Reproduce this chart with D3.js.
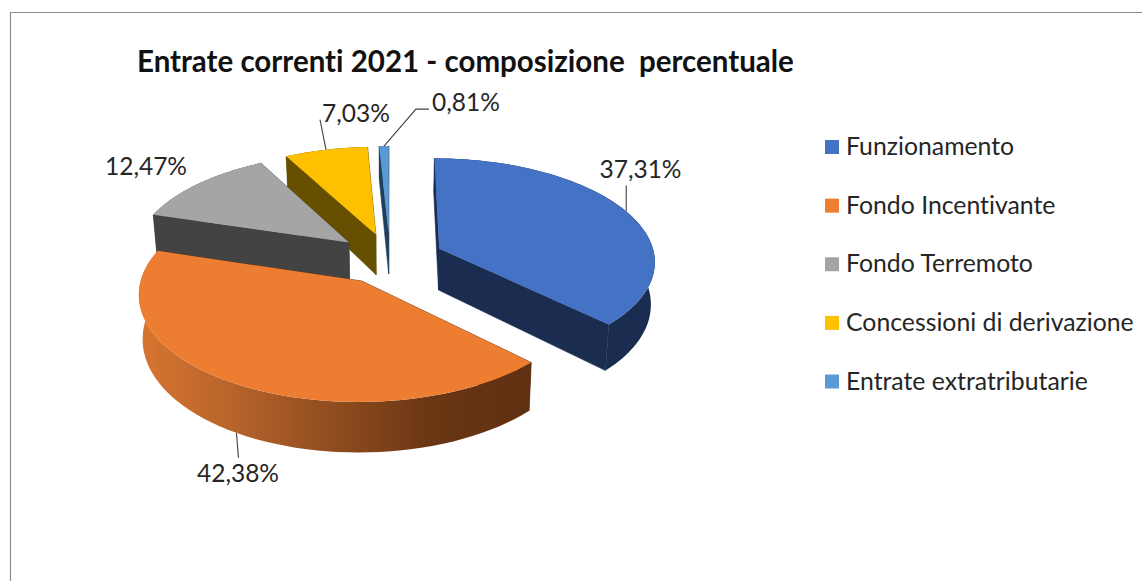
<!DOCTYPE html>
<html>
<head>
<meta charset="utf-8">
<script src="https://cdn.jsdelivr.net/npm/d3@7"></script>
<style>
  html, body { margin: 0; padding: 0; background: #fff; overflow: hidden; }
  text { font-family: Lato, "Open Sans", sans-serif; fill: #262626; font-variant-ligatures: none; white-space: pre; }
</style>
</head>
<body>
<div id="chart"></div>
<script>
// Data
const categories = ['Funzionamento', 'Fondo Incentivante', 'Fondo Terremoto', 'Concessioni di derivazione', 'Entrate extratributarie']
const percent = [37.31, 42.38, 12.47, 7.03, 0.81]

// Styles
const topColors = ['#4472c4', '#ed7d31', '#a5a5a5', '#ffc000', '#5b9bd5']
const wallColors = ['#1a2c50', '#5f3011', '#434343', '#665000', '#1f3e5e']

// Label placement, per slice
const leaderPoints = [[[0, -26]], [[2, 25]], [], [[-6, -30]], [[32, -37], [45, -37]]]
const labelX = [640.5, 238, 146, 356, 466]
const labelY = [178, 482, 175, 122, 111]

const width = 1142, height = 581
const explode = 0.25, persp = 0.11, steps = 60

// disc units (radius 1) to pixels
const xScale = d3.scaleLinear().domain([-1, 1]).range([174, 606])
const yScale = d3.scaleLinear().domain([-1, 1]).range([156.2, 360.8])

// z = 0 is the top face, z = 1 the bottom face
let project = (u, v, z) => {
  let w = 1 - persp * v
  return [
    xScale(u / w * (1 - 0.015 * z)),
    yScale(v / w) + z * (42 + 7 * v)
  ]
}

let svg = d3.select('#chart')
  .append('svg')
  .attr('width', width)
  .attr('height', height)
  .style('display', 'block')

// Frame is cut by the screenshot on the right and at the bottom
svg.append('path')
  .attr('d', `M10.5,${height}V12.5H${width}`)
  .attr('fill', 'none')
  .attr('stroke', '#8c8c8c')
  .attr('stroke-width', 1.2)

let defs = svg.append('defs')
let rimGradient = defs.append('linearGradient')
  .attr('id', 'orangeRim')
  .attr('gradientUnits', 'userSpaceOnUse')
  .attr('x1', 140).attr('x2', 530).attr('y1', 0).attr('y2', 0)
rimGradient.selectAll('stop')
  .data([[0, '#d77630'], [0.25, '#b5622a'], [0.5, '#8f4c1e'], [0.75, '#6a3614'], [1, '#5f3011']])
  .enter()
  .append('stop')
  .attr('offset', d => d[0])
  .attr('stop-color', d => d[1])

let slices = d3.pie().sort(null).value(d => d)(percent).map((s, i) => {
  let mid = (s.startAngle + s.endAngle) / 2
  return {
    index: i,
    value: percent[i],
    a0: s.startAngle,
    a1: s.endAngle,
    mid: mid,
    ox: explode * Math.sin(mid),
    oy: -explode * Math.cos(mid)
  }
})

let line = d3.line()

let rimPoint = (s, a, z) => project(s.ox + Math.sin(a), s.oy - Math.cos(a), z)
let apex = (s, z) => project(s.ox, s.oy, z)

let arcPoints = (s, z) => d3.range(steps + 1).map(i => rimPoint(s, s.a0 + (s.a1 - s.a0) * i / steps, z))

let topPath = s => line([apex(s, 0)].concat(arcPoints(s, 0))) + 'Z'
let wallPath = (s, a) => line([apex(s, 0), rimPoint(s, a, 0), rimPoint(s, a, 1), apex(s, 1)]) + 'Z'
let rimPath = s => line(arcPoints(s, 0).concat(arcPoints(s, 1).reverse())) + 'Z'

// back to front: small slices first, orange last
let order = [4, 3, 2, 0, 1]

let groups = svg.selectAll('g.slice')
  .data(order.map(i => slices[i]))
  .enter()
  .append('g')
  .attr('class', 'slice')

groups.append('path')
  .attr('d', s => wallPath(s, s.a0))
  .attr('fill', s => wallColors[s.index])
  .attr('stroke', s => wallColors[s.index])
  .attr('stroke-width', 0.6)
groups.append('path')
  .attr('d', s => wallPath(s, s.a1))
  .attr('fill', s => wallColors[s.index])
  .attr('stroke', s => wallColors[s.index])
  .attr('stroke-width', 0.6)
groups.append('path')
  .attr('d', rimPath)
  .attr('fill', s => s.index === 1 ? 'url(#orangeRim)' : wallColors[s.index])
groups.append('path')
  .attr('d', topPath)
  .attr('fill', s => topColors[s.index])

// Leader lines start at the middle of the slice edge
let labelFormat = v => v.toFixed(2).replace('.', ',') + '%'

let anchor = s => rimPoint(s, s.mid, s.index === 1 ? 1 : 0)

svg.selectAll('path.leader')
  .data(slices.filter(s => leaderPoints[s.index].length))
  .enter()
  .append('path')
  .attr('class', 'leader')
  .attr('fill', 'none')
  .attr('stroke', '#404040')
  .attr('stroke-width', 1.1)
  .attr('d', s => {
    let [x, y] = anchor(s)
    return line([[x, y]].concat(leaderPoints[s.index].map(p => [x + p[0], y + p[1]])))
  })

svg.selectAll('text.value')
  .data(slices)
  .enter()
  .append('text')
  .attr('class', 'value')
  .attr('x', s => labelX[s.index])
  .attr('y', s => labelY[s.index])
  .attr('text-anchor', 'middle')
  .style('font-size', '24.5px')
  .text(s => labelFormat(s.value))

// Title
svg.append('text')
  .attr('x', 137)
  .attr('y', 72)
  .style('font-size', '29.5px')
  .style('font-weight', 700)
  .style('fill', '#111')
  .text('Entrate correnti 2021 - composizione  percentuale')

// Legend
let legendY = d3.scalePoint().domain(categories).range([147, 381.5])
let legend = svg.selectAll('g.legend')
  .data(categories)
  .enter()
  .append('g')
  .attr('class', 'legend')
  .attr('transform', d => `translate(825, ${legendY(d)})`)
legend.append('rect')
  .attr('x', 0)
  .attr('y', -7)
  .attr('width', 14)
  .attr('height', 14)
  .attr('fill', (d, i) => topColors[i])
legend.append('text')
  .attr('x', 21)
  .attr('y', 8)
  .style('font-size', '24.8px')
  .text(d => d)
</script>
</body>
</html>
